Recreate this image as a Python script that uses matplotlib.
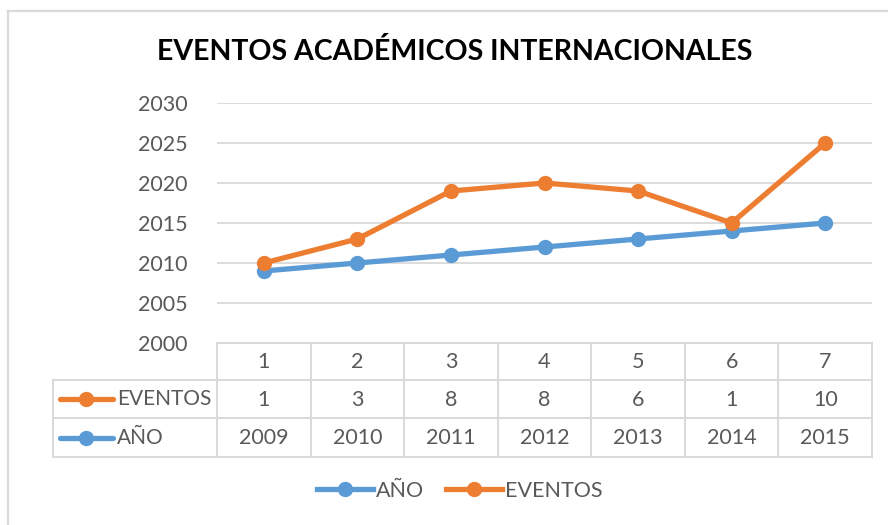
import numpy as np
import matplotlib
matplotlib.use("Agg")
from matplotlib import pyplot as plt
from matplotlib import transforms
from matplotlib.lines import Line2D

plt.rcParams['font.family'] = ['Lato', 'DejaVu Sans']

# data from the chart's data table
categories = [1, 2, 3, 4, 5, 6, 7]
anio = [2009, 2010, 2011, 2012, 2013, 2014, 2015]
eventos = [1, 3, 8, 8, 6, 1, 10]
y_ticks = [2000, 2005, 2010, 2015, 2020, 2025, 2030]

BLUE = "#5B9BD5"
ORANGE = "#ED7D31"
GRID = "#D9D9D9"
TEXT = "#595959"
LW, MS = 3.8, 10

W, H = 888, 525
fig = plt.figure(figsize=(W / 100, H / 100), dpi=100)


def fx(px):
    return px / W


def fy(py):
    return 1 - py / H


# outer chart border (only top and left visible in the crop)
fig.add_artist(Line2D([fx(8), fx(8)], [fy(11), 0], color=GRID, lw=1.6))
fig.add_artist(Line2D([fx(8), 1], [fy(11), fy(11)], color=GRID, lw=1.6))

left, right, top, bottom = 217, 872, 103, 343
ax = fig.add_axes([fx(left), fy(bottom), fx(right - left), (bottom - top) / H])

x = np.array(categories)
# stacked line chart: EVENTOS sits on top of AÑO
stacked = np.array(anio) + np.array(eventos)
ax.plot(x, anio, color=BLUE, lw=LW, marker="o", ms=MS, zorder=3, solid_capstyle="round")
ax.plot(x, stacked, color=ORANGE, lw=LW, marker="o", ms=MS, zorder=4, solid_capstyle="round")

ax.set_xlim(0.5, 7.5)
ax.set_ylim(2000, 2030)
ax.set_yticks(y_ticks)
ax.set_yticklabels([str(t) for t in y_ticks], fontsize=15.5, color=TEXT)
ax.tick_params(axis="y", length=0, pad=21)
ax.set_xticks([])
ax.grid(axis="y", color=GRID, lw=1.3)
ax.set_axisbelow(True)
for s in ax.spines.values():
    s.set_visible(False)

# data table under the plot
tr = transforms.blended_transform_factory(ax.transData, ax.transAxes)
h = bottom - top
rows = [(343, 380), (380, 418), (418, 457)]


def ay(py):
    return -(py - bottom) / h


tab_left = (53 - left) / (right - left)
lk = dict(color=GRID, lw=1.4, clip_on=False)

# horizontal lines
ax.plot([0, 1], [0, 0], transform=ax.transAxes, **lk)
for _, yb in rows:
    ax.plot([tab_left, 1], [ay(yb), ay(yb)], transform=ax.transAxes, **lk)
# vertical lines
for b in np.arange(0.5, 8.0, 1.0):
    ax.plot([b, b], [0, ay(457)], transform=tr, **lk)
ax.plot([tab_left, tab_left], [ay(380), ay(457)], transform=ax.transAxes, **lk)

for (yt, yb), vals in zip(rows, [categories, eventos, anio]):
    yc = ay((yt + yb) / 2 + 1)
    for xi, v in zip(x, vals):
        ax.text(xi, yc, str(v), transform=tr, ha="center", va="center",
                fontsize=15.5, color=TEXT, clip_on=False)

# series keys inside the table
for (yt, yb), name, col in [(rows[1], "EVENTOS", ORANGE), (rows[2], "AÑO", BLUE)]:
    yc = fy((yt + yb) / 2)
    fig.add_artist(Line2D([fx(60), fx(113)], [yc, yc], color=col, lw=LW,
                          solid_capstyle="round"))
    fig.add_artist(Line2D([fx(86)], [yc], color=col, marker="o", ms=MS, lw=0))
    fig.text(fx(117), yc, name, ha="left", va="center", fontsize=15, color=TEXT)

fig.text(fx(455), fy(52), "EVENTOS ACADÉMICOS INTERNACIONALES", ha="center", va="center",
         fontsize=20.5, fontweight="bold", color="black")

leg = fig.legend(handles=[Line2D([], [], color=BLUE, lw=LW, marker="o", ms=MS),
                          Line2D([], [], color=ORANGE, lw=LW, marker="o", ms=MS)],
                 labels=["AÑO", "EVENTOS"], loc="center", bbox_to_anchor=(fx(460), fy(491)),
                 ncol=2, frameon=False, fontsize=15.5, handlelength=2.6, handletextpad=0.15,
                 columnspacing=1.0, labelcolor=TEXT)

fig.savefig("out.png", dpi=100)
